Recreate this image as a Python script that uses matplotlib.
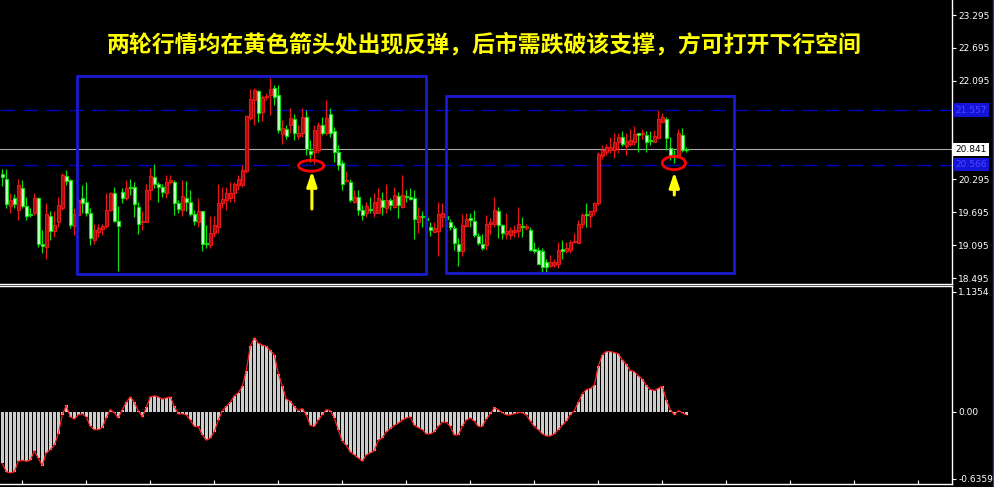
import matplotlib
matplotlib.use('Agg')
import matplotlib.pyplot as plt
import matplotlib.transforms as mtransforms
from matplotlib.patches import Rectangle, Ellipse
from matplotlib.lines import Line2D
import numpy as np

plt.rcParams['font.family'] = ['DejaVu Sans']

# OHLC per bar
opens = [20.39, 20.31, 19.81, 19.96, 19.74, 20.13, 19.81, 19.66, 19.68, 19.95,
         19.12, 19.07, 19.63, 19.36, 19.51, 19.77, 20.35, 20.28, 19.45, 19.65,
         19.95, 19.89, 19.68, 19.19, 19.34, 19.39, 19.45, 19.74, 20.05, 19.54,
         20.06, 19.95, 20.16, 20.15, 19.79, 19.51, 19.51, 20.11, 20.33, 20.22,
         20.16, 20.04, 20.25, 20.25, 19.87, 19.74, 19.96, 19.89, 19.66, 19.52,
         19.71, 19.14, 19.10, 19.31, 19.43, 19.86, 19.92, 19.95, 20.04, 20.19,
         20.19, 20.44, 21.42, 21.74, 21.90, 21.53, 21.79, 21.84, 21.96, 21.84,
         21.12, 21.21, 21.29, 21.40, 21.09, 21.15, 21.44, 20.81, 20.80, 20.83,
         21.28, 21.14, 21.48, 21.18, 20.80, 20.59, 20.27, 20.25, 19.89, 19.98,
         19.74, 19.68, 19.74, 19.69, 19.69, 19.92, 19.77, 19.91, 19.80, 19.99,
         19.80, 19.98, 19.98, 19.95, 19.52, 19.62, 19.59, 19.43, 19.34, 19.36,
         19.60, 19.62, 19.51, 19.41, 19.12, 18.98, 19.45, 19.59, 19.54, 19.26,
         19.12, 19.10, 19.48, 19.49, 19.72, 19.46, 19.30, 19.28, 19.34, 19.36,
         19.45, 19.40, 19.37, 19.02, 19.01, 18.98, 18.78, 18.71, 18.73, 18.76,
         19.02, 18.98, 19.01, 19.15, 19.14, 19.48, 19.66, 19.63, 19.71, 19.87,
         20.72, 20.80, 20.83, 20.83, 20.98, 21.06, 20.90, 20.94, 20.98, 21.14,
         21.12, 21.10, 21.01, 20.98, 21.05, 21.35, 21.39, 20.86, 20.74, 20.74,
         21.11, 20.85]
highs = [20.48, 20.48, 20.04, 20.03, 20.30, 20.28, 19.98, 19.77, 20.05, 19.97,
         19.37, 19.86, 19.71, 19.71, 19.97, 20.41, 20.47, 20.31, 19.77, 19.95,
         20.19, 20.24, 19.77, 19.49, 19.49, 19.48, 20.04, 20.07, 20.16, 19.81,
         20.13, 20.28, 20.31, 20.25, 19.89, 19.71, 20.22, 20.50, 20.58, 20.25,
         20.22, 20.38, 20.38, 20.28, 19.92, 20.28, 20.27, 20.10, 19.74, 19.96,
         19.71, 19.46, 19.62, 19.62, 20.22, 20.16, 20.16, 20.25, 20.25, 20.38,
         20.56, 21.47, 21.94, 21.96, 21.93, 21.84, 21.87, 22.14, 22.02, 22.02,
         21.38, 21.29, 21.59, 21.48, 21.29, 21.59, 21.56, 21.01, 21.29, 21.35,
         21.44, 21.74, 21.59, 21.26, 20.92, 20.65, 20.44, 20.31, 20.10, 20.10,
         19.83, 19.89, 19.98, 20.04, 20.13, 20.07, 20.21, 19.95, 20.16, 20.07,
         20.38, 20.10, 20.13, 20.10, 19.80, 19.71, 19.62, 19.52, 19.52, 19.89,
         19.86, 19.65, 19.57, 19.46, 19.22, 19.66, 19.68, 19.68, 19.74, 19.32,
         19.30, 19.64, 19.59, 19.98, 19.80, 19.49, 19.68, 19.43, 19.46, 19.80,
         19.61, 19.48, 19.43, 19.16, 19.07, 19.04, 18.85, 18.91, 18.85, 19.16,
         19.18, 19.16, 19.19, 19.31, 19.55, 19.69, 19.87, 19.72, 19.89, 20.80,
         20.92, 20.94, 21.07, 21.14, 21.15, 21.18, 21.14, 21.21, 21.27, 21.15,
         21.21, 21.17, 21.17, 21.20, 21.56, 21.50, 21.44, 21.06, 20.83, 21.21,
         21.23, 20.89]
lows = [20.18, 19.77, 19.69, 19.77, 19.55, 19.77, 19.55, 19.60, 19.65, 19.07,
        18.95, 18.85, 19.19, 19.25, 19.43, 19.74, 20.19, 19.40, 19.28, 19.62,
        19.68, 19.62, 19.10, 19.12, 19.25, 19.28, 19.40, 19.71, 19.52, 18.63,
        19.86, 19.92, 20.01, 19.60, 19.30, 19.37, 19.51, 19.92, 20.13, 19.89,
        19.98, 19.95, 20.22, 19.65, 19.68, 19.62, 19.71, 19.62, 19.46, 19.43,
        18.98, 19.04, 19.04, 19.25, 19.31, 19.77, 19.74, 19.89, 19.89, 20.10,
        20.16, 20.42, 21.38, 21.29, 21.35, 21.36, 21.74, 21.47, 21.65, 21.14,
        20.95, 21.04, 21.14, 21.01, 21.04, 21.07, 20.74, 20.61, 20.58, 20.77,
        21.10, 21.10, 21.07, 20.61, 20.47, 20.10, 20.24, 19.88, 19.86, 19.65,
        19.55, 19.60, 19.69, 19.60, 19.68, 19.65, 19.68, 19.74, 19.77, 19.59,
        19.77, 19.89, 19.92, 19.20, 19.31, 19.43, 19.40, 19.26, 19.34, 18.90,
        19.43, 19.55, 19.37, 19.01, 18.72, 18.90, 19.42, 19.43, 19.25, 19.10,
        19.01, 19.01, 19.30, 19.43, 19.22, 19.20, 19.20, 19.20, 19.25, 19.25,
        19.25, 19.37, 18.98, 18.95, 18.76, 18.59, 18.61, 18.69, 18.69, 18.67,
        18.85, 18.96, 18.95, 19.13, 19.13, 19.41, 19.43, 19.43, 19.65, 19.83,
        20.66, 20.74, 20.77, 20.68, 20.77, 20.90, 20.74, 20.90, 20.92, 20.80,
        21.03, 20.80, 20.92, 20.97, 21.03, 21.33, 20.84, 20.65, 20.59, 20.71,
        20.80, 20.80]
closes = [20.33, 19.84, 19.92, 19.84, 20.19, 19.81, 19.63, 19.65, 19.95, 19.11,
          19.08, 19.66, 19.36, 19.46, 19.83, 20.38, 20.27, 19.46, 19.66, 19.92,
          19.87, 19.69, 19.22, 19.37, 19.41, 19.45, 19.74, 20.04, 19.54, 19.45,
          19.96, 20.13, 20.14, 19.85, 19.49, 19.54, 20.11, 20.35, 20.21, 20.16,
          20.07, 20.25, 20.28, 19.86, 19.75, 20.00, 19.88, 19.66, 19.54, 19.72,
          19.11, 19.11, 19.31, 19.46, 19.86, 19.93, 20.04, 20.05, 20.22, 20.30,
          20.47, 21.46, 21.77, 21.93, 21.50, 21.80, 21.82, 21.94, 21.80, 21.20,
          21.24, 21.09, 21.41, 21.14, 21.15, 21.44, 20.85, 20.76, 21.20, 21.29,
          21.15, 21.41, 21.14, 20.79, 20.56, 20.22, 20.28, 19.92, 19.97, 19.74,
          19.65, 19.81, 19.73, 19.89, 19.95, 19.80, 19.92, 19.83, 20.01, 19.83,
          20.01, 19.97, 19.93, 19.57, 19.63, 19.60, 19.56, 19.38, 19.41, 19.66,
          19.69, 19.58, 19.42, 19.13, 18.98, 19.46, 19.57, 19.55, 19.28, 19.14,
          19.05, 19.49, 19.52, 19.74, 19.46, 19.32, 19.36, 19.37, 19.38, 19.48,
          19.43, 19.44, 19.01, 18.99, 18.76, 18.69, 18.70, 18.78, 18.78, 19.01,
          18.99, 19.04, 19.16, 19.17, 19.49, 19.65, 19.64, 19.71, 19.87, 20.76,
          20.83, 20.89, 20.89, 20.98, 21.07, 20.94, 20.99, 21.01, 21.12, 21.11,
          21.14, 20.98, 21.00, 21.09, 21.39, 21.43, 21.05, 20.71, 20.70, 21.14,
          20.83, 20.84]

# oscillator histogram in the lower pane
osc = [-0.49, -0.57, -0.58, -0.57, -0.47, -0.46, -0.47, -0.46, -0.37, -0.44,
       -0.51, -0.39, -0.36, -0.32, -0.21, -0.03, 0.06, -0.05, -0.07, -0.03,
       -0.02, -0.05, -0.14, -0.17, -0.17, -0.15, -0.06, 0.02, -0.01, -0.06,
       0.02, 0.09, 0.14, 0.09, 0.01, -0.05, 0.04, 0.14, 0.15, 0.14,
       0.12, 0.13, 0.14, 0.05, -0.02, -0.02, -0.03, -0.08, -0.14, -0.14,
       -0.22, -0.27, -0.25, -0.19, -0.08, 0.01, 0.05, 0.09, 0.15, 0.18,
       0.24, 0.39, 0.62, 0.70, 0.65, 0.63, 0.62, 0.58, 0.54, 0.36,
       0.24, 0.12, 0.10, 0.05, 0.01, 0.03, -0.03, -0.13, -0.14, -0.08,
       -0.03, 0.02, 0.01, -0.06, -0.17, -0.28, -0.32, -0.38, -0.41, -0.44,
       -0.47, -0.41, -0.39, -0.37, -0.27, -0.25, -0.19, -0.16, -0.13, -0.11,
       -0.08, -0.06, -0.05, -0.13, -0.15, -0.17, -0.21, -0.21, -0.19, -0.14,
       -0.10, -0.10, -0.14, -0.22, -0.22, -0.14, -0.08, -0.06, -0.09, -0.14,
       -0.14, -0.07, -0.02, 0.04, 0.02, -0.01, -0.03, -0.03, -0.02, -0.01,
       -0.01, -0.03, -0.09, -0.14, -0.17, -0.21, -0.23, -0.23, -0.21, -0.17,
       -0.13, -0.09, -0.03, 0.01, 0.09, 0.17, 0.21, 0.22, 0.25, 0.43,
       0.54, 0.57, 0.57, 0.56, 0.55, 0.49, 0.45, 0.39, 0.38, 0.34,
       0.31, 0.25, 0.21, 0.20, 0.22, 0.24, 0.11, 0.02, -0.03, 0.01,
       -0.01, -0.03]

# scale labels; the two hidden under the highlight boxes are left blank
price_ticks = [23.295, 22.695, 22.095, 21.495, 20.895, 20.295, 19.695, 19.095, 18.495]
price_labels = ['23.295', '22.695', '22.095', '', '', '20.295', '19.695', '19.095', '18.495']
osc_ticks = [1.1354, 0.00, -0.6359]
osc_labels = ['1.1354', '0.00', '-0.6359']
upper_line = 21.557
lower_line = 20.566
last_price = 20.841

title = '两轮行情均在黄色箭头处出现反弹，后市需跌破该支撑，方可打开下行空间'

W, H = 995, 487
fig = plt.figure(figsize=(W / 100, H / 100), dpi=100, facecolor='black')
ax = fig.add_axes([0, (H - 283.5) / H, 952 / W, 283.5 / H], facecolor='black')
ax2 = fig.add_axes([0, 3 / H, 952 / W, (484 - 286) / H], facecolor='black')

x = np.arange(len(closes))
o = np.array(opens)
c = np.array(closes)
up = c >= o

# candles: red = up, green = down
for mask, face, edge in [(up, '#b00c0c', '#e81818'), (~up, '#c8ffc8', '#10e010')]:
    ax.vlines(x[mask], np.array(lows)[mask], np.array(highs)[mask], color=edge, lw=0.9, zorder=3)
    bottom = np.minimum(o, c)[mask]
    height = np.maximum(np.abs(c - o)[mask], 0.018)
    ax.bar(x[mask], height, 0.7, bottom=bottom, color=face, edgecolor=edge, linewidth=0.8, zorder=4)

ax.axhline(upper_line, color='#0000c0', lw=1, dashes=(10.5, 6), zorder=2)
ax.axhline(lower_line, color='#0000c0', lw=1, dashes=(10.5, 6), zorder=2)
ax.axhline(last_price, color='#a8a8a8', lw=0.8, zorder=2)

# blue boxes around the two swings
ax.add_patch(Rectangle((18.7, 18.569), 87.2, 3.613, fill=False, ec='#1a1ad2', lw=2, zorder=5))
ax.add_patch(Rectangle((110.9, 18.587), 72.0, 3.23, fill=False, ec='#1a1ad2', lw=2, zorder=5))

# red rings and yellow arrows at the support
ax.add_patch(Ellipse((77.2, 20.545), 6.3, 0.2, fill=False, ec='#ff0000', lw=2, zorder=6))
ax.add_patch(Ellipse((167.9, 20.594), 5.8, 0.24, fill=False, ec='#ff0000', lw=2, zorder=6))
for ax_x, tail, head in [(77.4, 19.755, 20.448), (168.0, 20.01, 20.43)]:
    ax.annotate('', xy=(ax_x, head), xytext=(ax_x, tail),
                arrowprops=dict(arrowstyle='-|>,head_length=0.9,head_width=0.3', mutation_scale=10,
                                color='#ffff00', lw=2.2, shrinkA=0, shrinkB=0), zorder=7)

ax.set_xlim(-0.575, 237.425)
ax.set_ylim(18.395, 23.569)
ax.yaxis.tick_right()
ax.set_yticks(price_ticks)
ax.set_yticklabels(price_labels)
ax.tick_params(axis='y', colors='white', labelsize=6.5, length=3, width=0.8, pad=1.5)
ax.set_xticks([])
for side in ['top', 'left']:
    ax.spines[side].set_visible(False)
for side in ['right', 'bottom']:
    ax.spines[side].set_color('white')
    ax.spines[side].set_linewidth(1)

# highlighted price labels on the right scale
tr = mtransforms.blended_transform_factory(ax.transAxes, ax.transData)
for val, fc, tc in [(upper_line, '#1414d8', '#4848ff'), (lower_line, '#1414d8', '#4848ff'),
                    (last_price, 'white', 'black')]:
    ax.text(1.0035, val, f'{val:.3f}', transform=tr, ha='left', va='center', fontsize=6.5,
            color=tc, clip_on=False, zorder=10,
            bbox=dict(boxstyle='square,pad=0.25', fc=fc, ec='none'))

fig.text(484.5 / W, 1 - 45 / H, title, ha='center', va='center',
         color='#ffff00', fontsize=16.5, fontweight='bold',
         family=['Noto Sans CJK SC', 'DejaVu Sans'], zorder=10)

# lower pane: histogram + outline
ax2.bar(x, osc, 0.72, color='#cccccc', zorder=2)
ax2.plot(x, osc, color='#ff2020', lw=0.9, zorder=3)
ax2.set_xlim(-0.575, 237.425)
ax2.set_ylim(-0.685, 1.191)
ax2.yaxis.tick_right()
ax2.set_yticks(osc_ticks)
ax2.set_yticklabels(osc_labels)
ax2.tick_params(axis='y', colors='white', labelsize=6.5, length=3, width=0.8, pad=1.5)
ax2.set_xticks(np.arange(4.93, 237, 16))
ax2.tick_params(axis='x', colors='white', direction='in', length=3, labelbottom=False)
ax2.spines['left'].set_visible(False)
for side in ['top', 'right', 'bottom']:
    ax2.spines[side].set_color('white')
    ax2.spines[side].set_linewidth(1)

fig.add_artist(Line2D([993.5 / W, 993.5 / W], [0, 1], color='#2a3c90', lw=1))

fig.savefig('out.png', dpi=100, facecolor='black')
